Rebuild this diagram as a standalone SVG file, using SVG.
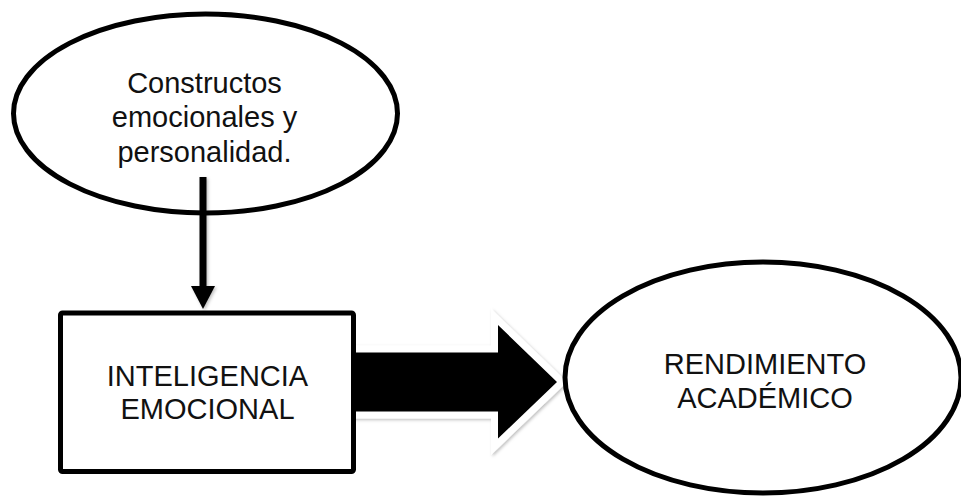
<svg xmlns="http://www.w3.org/2000/svg" width="961" height="497" viewBox="0 0 961 497">
<style>
.shape{fill:#fff;stroke:#000;stroke-width:5}
.lbl{font-family:"Liberation Sans",Arial,sans-serif;font-size:29px;fill:#111;text-anchor:middle}
</style>
<defs>
<filter id="sh" x="-20%" y="-20%" width="140%" height="140%">
<feDropShadow dx="1.5" dy="1.5" stdDeviation="1.5" flood-color="#000" flood-opacity="0.25"/>
</filter>
</defs>
<rect width="961" height="497" fill="#fff"/>
<g id="node-constructos">
<ellipse class="shape" cx="205.5" cy="113.5" rx="192" ry="99.5"/>
<text class="lbl" x="204.5" y="92.7">Constructos</text>
<text class="lbl" x="204.5" y="126.7">emocionales y</text>
<text class="lbl" x="204.5" y="161.7">personalidad.</text>
</g>
<g id="connectors">
<g filter="url(#sh)">
<rect x="199.5" y="177" width="7" height="112" fill="#000"/>
<polygon points="191,286 215,286 203,309" fill="#000"/>
</g>
<path d="M356,352.5 H498 V325 L557,382 L498,438.5 V411.5 H356 Z" fill="#fff" stroke="#fff" stroke-width="14" stroke-linejoin="miter" filter="url(#sh)"/>
<path d="M356,352.5 H498 V325 L557,382 L498,438.5 V411.5 H356 Z" fill="#000"/>
</g>
<g id="node-inteligencia">
<rect class="shape" x="60.5" y="313" width="293" height="158.5" rx="2"/>
<text class="lbl" x="207.5" y="386">INTELIGENCIA</text>
<text class="lbl" x="207.5" y="419.3">EMOCIONAL</text>
</g>
<g id="node-rendimiento">
<ellipse class="shape" cx="763" cy="377.5" rx="198" ry="115.5"/>
<text class="lbl" x="765" y="374">RENDIMIENTO</text>
<text class="lbl" x="765" y="408.3">ACADÉMICO</text>
</g>
</svg>
